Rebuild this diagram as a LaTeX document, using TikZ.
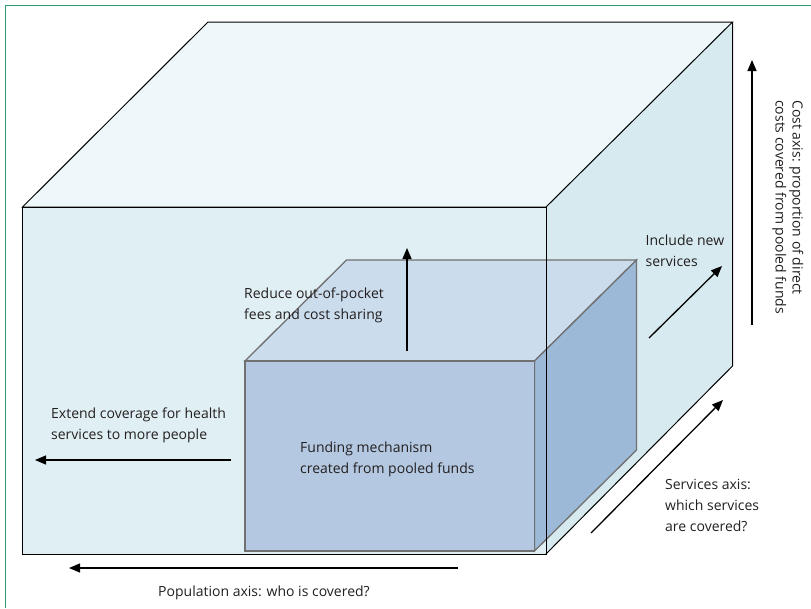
\documentclass[tikz,border=0pt]{standalone}
\usepackage{fontspec}
\setmainfont{Open Sans}
\usetikzlibrary{arrows.meta}
\definecolor{framegreen}{HTML}{2A9D6C}
\definecolor{txt}{HTML}{231F20}
\definecolor{bigtop}{HTML}{EEF7FA}
\definecolor{bigfront}{HTML}{E0EFF4}
\definecolor{bigright}{HTML}{D6EAF0}
\definecolor{smalltop}{HTML}{CBDCEC}
\definecolor{smallfront}{HTML}{B4C9E1}
\definecolor{smallright}{HTML}{9DB9D8}
\definecolor{smalledge}{HTML}{707070}
\begin{document}
\begin{tikzpicture}[x=1pt,y=-1pt,
  lbl/.style={font=\fontsize{14}{21}\selectfont, text=txt, align=left, inner sep=0pt, anchor=base west},
  arr/.style={draw=black, line width=1.3pt, -{Triangle[length=11pt,width=9pt]}},
  bigedge/.style={draw=black, line width=1pt, line join=miter},
  smallface/.style={draw=smalledge, line width=1.3pt, line join=miter},
  framestyle/.style={draw=framegreen, line width=1.6pt}]
\useasboundingbox (0,0) rectangle (811,608);
% frame
\coordinate (fr1) at (5.5,608);
\coordinate (fr2) at (5.5,5.5);
\coordinate (fr3) at (811,5.5);
\draw[framestyle] (fr1) -- (fr2) -- (fr3);
% big cube corners
\coordinate (A) at (22.5,207);
\coordinate (B) at (546,207);
\coordinate (C) at (546,554);
\coordinate (D) at (22.5,554);
\coordinate (E) at (208,22);
\coordinate (F) at (732.5,22);
\coordinate (G) at (732.5,366);
% small box corners
\coordinate (a) at (245,361);
\coordinate (b) at (534.5,361);
\coordinate (c) at (534.5,551);
\coordinate (d) at (245,551);
\coordinate (e) at (346.5,260);
\coordinate (f) at (636.5,260);
\coordinate (g) at (636.5,450);
% big cube faces
\fill[bigtop] (A) -- (E) -- (F) -- (B) -- cycle;
\fill[bigright] (B) -- (F) -- (G) -- (C) -- cycle;
\fill[bigfront] (A) -- (B) -- (C) -- (D) -- cycle;
% small box
\filldraw[smallface, fill=smalltop] (a) -- (e) -- (f) -- (b) -- cycle;
\filldraw[smallface, fill=smallright] (b) -- (f) -- (g) -- (c) -- cycle;
\filldraw[smallface, fill=smallfront] (a) -- (b) -- (c) -- (d) -- cycle;
% big cube edges
\draw[bigedge] (A) -- (E) -- (F) -- (B) -- cycle;
\draw[bigedge] (F) -- (G) -- (C);
\draw[bigedge] (A) -- (B) -- (C) -- (D) -- cycle;
% arrow end points
\coordinate (cost0) at (752,325);
\coordinate (cost1) at (752,60);
\coordinate (inc0) at (649,338);
\coordinate (inc1) at (722,266);
\coordinate (srv0) at (591,533);
\coordinate (srv1) at (723,400);
\coordinate (red0) at (407,351);
\coordinate (red1) at (407,248);
\coordinate (ext0) at (231,460);
\coordinate (ext1) at (35,460);
\coordinate (pop0) at (458,568);
\coordinate (pop1) at (69,568);
\draw[arr] (cost0) -- (cost1);
\draw[arr] (inc0) -- (inc1);
\draw[arr] (srv0) -- (srv1);
\draw[arr] (red0) -- (red1);
\draw[arr] (ext0) -- (ext1);
\draw[arr] (pop0) -- (pop1);
% labels (base anchor = baseline of last line)
\node[lbl] (incl) at (645.5,266.7) {Include new\\services};
\node[lbl] (redl) at (244,319) {Reduce out-of-pocket\\fees and cost sharing};
\node[lbl] (extl) at (51,439) {Extend coverage for health\\services to more people};
\node[lbl] (fundl) at (300,473.5) {Funding mechanism\\created from pooled funds};
\node[lbl] (popl) at (158,596) {Population axis: who is covered?};
\node[lbl] (srvl) at (665,531.7) {Services axis:\\which services\\are covered?};
\node[lbl, font=\fontsize{14}{17}\selectfont, rotate=-90, anchor=north west] (costl) at (803.5,100) {Cost axis: proportion of direct\\costs covered from pooled funds};
\end{tikzpicture}
\end{document}
